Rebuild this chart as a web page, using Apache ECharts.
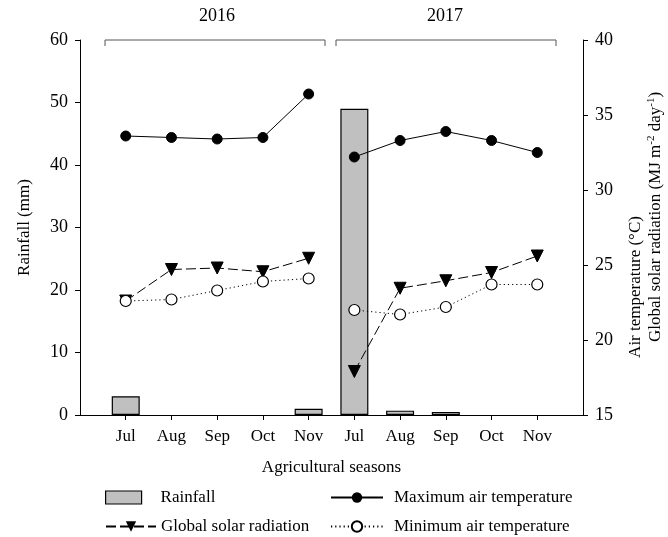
<!DOCTYPE html>
<html>
<head>
<meta charset="utf-8">
<script src="https://cdn.jsdelivr.net/npm/echarts@6/dist/echarts.min.js"></script>
<style>
html,body{margin:0;padding:0;background:#fff;}
#c{width:668px;height:537px;}
</style>
</head>
<body>
<div id="c"></div>
<script>
// ---- data ----
const categories = ['Jul','Aug','Sep','Oct','Nov','Jul','Aug','Sep','Oct','Nov'];
const yearOf = ['2016','2016','2016','2016','2016','2017','2017','2017','2017','2017'];
const years = ['2016','2017'];
const rainfall = [3.0, 0, 0, 0, 1.0, 49.0, 0.7, 0.5, 0, 0];
const maxTemp  = [33.6, 33.5, 33.4, 33.5, 36.4, 32.2, 33.3, 33.9, 33.3, 32.5];
const minTemp  = [22.6, 22.7, 23.3, 23.9, 24.1, 22.0, 21.7, 22.2, 23.7, 23.7];
const solarRad = [22.6, 24.7, 24.8, 24.55, 25.45, 17.9, 23.45, 23.95, 24.5, 25.6];
const leftAxis = {min: 0, max: 60, interval: 10};
const rightAxis = {min: 15, max: 40, interval: 5};

// ---- helpers ----
const FONT = 'Liberation Serif';
const axisData = ['__start'].concat(categories.map((c, i) => c + ' ' + yearOf[i])).concat(['__end']);
function pad(arr) { return [null].concat(arr).concat([null]); }
function yearPart(arr, yr) {
  return pad(arr.map((v, i) => yearOf[i] === yr ? v : null));
}

const barStyle = {color: '#c0c0c0', borderColor: '#000', borderWidth: 1.2};
const series = [{
  name: 'Rainfall', type: 'bar', yAxisIndex: 0,
  data: pad(rainfall.map(v => v === 0 ? {value: v, itemStyle: {borderWidth: 0}} : v)),
  barWidth: 28,
  itemStyle: barStyle
}];
years.forEach(yr => {
  series.push({
    name: 'Global solar radiation', type: 'line', yAxisIndex: 1,
    data: yearPart(solarRad, yr), connectNulls: false,
    symbol: 'triangle', symbolRotate: 180, symbolSize: 12,
    lineStyle: {color: '#000', width: 1, type: [10, 4]},
    itemStyle: {color: '#000', borderColor: '#000'}
  });
  series.push({
    name: 'Maximum air temperature', type: 'line', yAxisIndex: 1,
    data: yearPart(maxTemp, yr), connectNulls: false,
    symbol: 'circle', symbolSize: 10,
    lineStyle: {color: '#000', width: 1},
    itemStyle: {color: '#000', borderColor: '#000'}
  });
  series.push({
    name: 'Minimum air temperature', type: 'line', yAxisIndex: 1,
    data: yearPart(minTemp, yr), connectNulls: false,
    symbol: 'circle', symbolSize: 11,
    lineStyle: {color: '#000', width: 1, type: [1.2, 3]},
    itemStyle: {color: '#fff', borderColor: '#000', borderWidth: 1.2}
  });
});

const axisLineStyle = {lineStyle: {color: '#000', width: 1}};
const textBase = {color: '#000', fontFamily: FONT};

function legendItem(name, left, top, w, textPad, extra) {
  const item = Object.assign({name: name}, extra || {});
  return {
    orient: 'horizontal', left: left, top: top, itemWidth: w, itemHeight: 13,
    textStyle: Object.assign({fontSize: 17, padding: [0, 0, 0, textPad]}, textBase),
    data: [item]
  };
}

const option = {
  animation: false,
  backgroundColor: '#fff',
  grid: {left: 80, right: 85, top: 40, bottom: 122, containLabel: false},
  xAxis: {
    type: 'category', data: axisData, boundaryGap: false,
    name: 'Agricultural seasons', nameLocation: 'middle', nameGap: 44,
    nameTextStyle: Object.assign({fontSize: 17}, textBase),
    axisLine: axisLineStyle,
    axisTick: {show: true, length: 5, inside: false,
      interval: (i, v) => v !== '__start' && v !== '__end', lineStyle: {color: '#000'}},
    axisLabel: Object.assign({fontSize: 17, margin: 13, interval: 0,
      formatter: v => (v === '__start' || v === '__end') ? '' : v.split(' ')[0]}, textBase),
    splitLine: {show: false}
  },
  yAxis: [{
    type: 'value', min: leftAxis.min, max: leftAxis.max, interval: leftAxis.interval,
    position: 'left',
    name: 'Rainfall (mm)', nameLocation: 'middle', nameGap: 47, nameRotate: 90,
    nameTextStyle: Object.assign({fontSize: 17}, textBase),
    axisLine: {show: true, lineStyle: {color: '#000', width: 1}},
    axisTick: {show: true, length: 5, lineStyle: {color: '#000'}},
    axisLabel: Object.assign({fontSize: 18, margin: 12}, textBase),
    splitLine: {show: false}
  }, {
    type: 'value', min: rightAxis.min, max: rightAxis.max, interval: rightAxis.interval,
    position: 'right',
    axisLine: {show: true, lineStyle: {color: '#000', width: 1}},
    axisTick: {show: true, length: 5, lineStyle: {color: '#000'}},
    axisLabel: Object.assign({fontSize: 18, margin: 12}, textBase),
    splitLine: {show: false}
  }],
  legend: [
    legendItem('Rainfall', 100, 484, 36, 14, {icon: 'rect', itemStyle: barStyle}),
    legendItem('Global solar radiation', 100, 513, 50, 0),
    legendItem('Maximum air temperature', 325, 484, 52, 6),
    legendItem('Minimum air temperature', 325, 513, 52, 6)
  ],
  graphic: [
    {type: 'polyline', shape: {points: [[105, 46], [105, 40], [325, 40], [325, 46]]},
      style: {stroke: '#555', lineWidth: 1, fill: null}},
    {type: 'polyline', shape: {points: [[336, 46], [336, 40], [556, 40], [556, 46]]},
      style: {stroke: '#555', lineWidth: 1, fill: null}},
    {type: 'text', x: 217, y: 16, style: {text: years[0], fill: '#000', font: '18px "Liberation Serif"', align: 'center', verticalAlign: 'middle'}},
    {type: 'text', x: 445, y: 16, style: {text: years[1], fill: '#000', font: '18px "Liberation Serif"', align: 'center', verticalAlign: 'middle'}},
    {type: 'text', x: 636, y: 287, rotation: Math.PI / 2,
      style: {text: 'Air temperature (°C)', fill: '#000', font: '17px "Liberation Serif"', align: 'center', verticalAlign: 'middle'}},
    {type: 'text', x: 656, y: 217, rotation: Math.PI / 2,
      style: {text: 'Global solar radiation (MJ m{sup|-2} day{sup|-1})', fill: '#000',
        fontSize: 17, fontFamily: FONT, align: 'center', verticalAlign: 'middle', lineHeight: 20,
        rich: {sup: {fontSize: 11, fontFamily: FONT, fill: '#000', verticalAlign: 'top', lineHeight: 20, padding: [0, 0, 8, 0]}}}}
  ],
  series: series
};

const chart = echarts.init(document.getElementById('c'), null, {renderer: 'canvas'});
chart.setOption(option);
</script>
</body>
</html>
